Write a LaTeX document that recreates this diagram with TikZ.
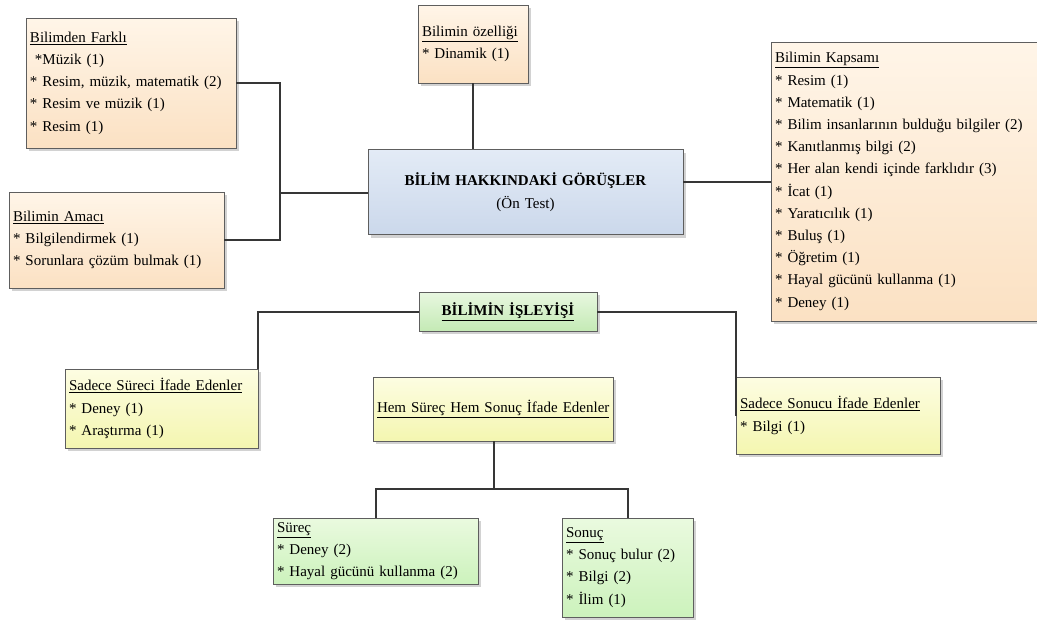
\documentclass[tikz,border=0pt]{standalone}
\usepackage{fontspec}
\setmainfont{Liberation Serif}
\usetikzlibrary{shadows,calc}

\definecolor{orTop}{HTML}{FFF5E8}
\definecolor{orBot}{HTML}{FBE1C3}
\definecolor{blTop}{HTML}{E3EBF6}
\definecolor{blBot}{HTML}{CBD8EB}
\definecolor{grTop}{HTML}{E8F7E0}
\definecolor{grBot}{HTML}{C4EAB5}
\definecolor{yeTop}{HTML}{FDFDE2}
\definecolor{yeBot}{HTML}{F4F6B0}
\definecolor{lgTop}{HTML}{EAFADF}
\definecolor{lgBot}{HTML}{CCF2BC}
\definecolor{edge}{HTML}{5E5E5E}
\definecolor{wire}{HTML}{363636}

\tikzset{
  box/.style={draw=edge, line width=0.9pt, inner xsep=4pt, inner ysep=0pt,
    align=left, anchor=center,
    font=\fontsize{15}{22.2}\selectfont,
    drop shadow={shadow xshift=3pt, shadow yshift=-3pt, fill=black!22, opacity=0.8}},
  orangebox/.style={box, top color=orTop, bottom color=orBot},
  bluebox/.style={box, top color=blTop, bottom color=blBot, align=center},
  greenbox/.style={box, top color=grTop, bottom color=grBot, align=center},
  yellowbox/.style={box, top color=yeTop, bottom color=yeBot},
  lgreenbox/.style={box, top color=lgTop, bottom color=lgBot},
  wirestyle/.style={draw=wire, line width=2pt},
  % outer width and height of a box, in px units
  bsize/.code 2 args={\pgfmathsetlengthmacro\boxtextw{#1pt-8pt}%
    \tikzset{text width=\boxtextw, minimum height=#2pt}},
}

\begin{document}
\begin{tikzpicture}[x=1pt, y=-1pt]
\useasboundingbox (0,0) rectangle (1037,622);

% upper boxes
\node[orangebox, bsize={210}{130}] (farkli) at (131,83)
  {\underline{Bilimden Farklı}\\
   \ *Müzik (1)\\
   {*} Resim, müzik, matematik (2)\\
   {*} Resim ve müzik (1)\\
   {*} Resim (1)};

\node[orangebox, bsize={215}{96}] (amaci) at (116.5,240)
  {\underline{Bilimin Amacı}\\
   {*} Bilgilendirmek (1)\\
   {*} Sorunlara çözüm bulmak (1)};

\node[orangebox, bsize={110}{78}] (ozellik) at (473,44)
  {\underline{Bilimin özelliği}\\
   {*} Dinamik (1)};

\node[bluebox, bsize={315}{85}] (ana) at (525.5,192)
  {\textbf{BİLİM HAKKINDAKİ GÖRÜŞLER}\\[1pt]
   (Ön Test)};

\node[orangebox, bsize={270}{279}] (kapsam) at (906,181.5)
  {\underline{Bilimin Kapsamı}\\
   {*} Resim (1)\\
   {*} Matematik (1)\\
   {*} Bilim insanlarının bulduğu bilgiler (2)\\
   {*} Kanıtlanmış bilgi (2)\\
   {*} Her alan kendi içinde farklıdır (3)\\
   {*} İcat (1)\\
   {*} Yaratıcılık (1)\\
   {*} Buluş (1)\\
   {*} Öğretim (1)\\
   {*} Hayal gücünü kullanma (1)\\
   {*} Deney (1)};

% middle level
\node[greenbox, bsize={178}{39}] (isleyis) at (508,311.5)
  {\textbf{\underline{BİLİMİN İŞLEYİŞİ}}};

\node[yellowbox, bsize={193}{79}] (sureci) at (161.5,408.5)
  {\underline{Sadece Süreci İfade Edenler}\\
   {*} Deney (1)\\
   {*} Araştırma (1)};

\node[yellowbox, bsize={240}{64}] (hem) at (493,409)
  {\underline{Hem Süreç Hem Sonuç İfade Edenler}};

\node[yellowbox, bsize={204}{77}] (sonucu) at (838,415.5)
  {\underline{Sadece Sonucu İfade Edenler}\\
   {*} Bilgi (1)};

% lower level
\node[lgreenbox, bsize={205}{66}] (surec) at (375.5,551)
  {\underline{Süreç}\\
   {*} Deney (2)\\
   {*} Hayal gücünü kullanma (2)};

\node[lgreenbox, bsize={131}{99}] (sonuc) at (627.5,567.5)
  {\underline{Sonuç}\\
   {*} Sonuç bulur (2)\\
   {*} Bilgi (2)\\
   {*} İlim (1)};

% connectors
\coordinate (lj) at (280,193);
\draw[wirestyle] (farkli.east) -| (lj);
\draw[wirestyle] (amaci.east) -| (lj);
\draw[wirestyle] (lj) -- (lj -| ana.west);
\draw[wirestyle] (ozellik.south) -- (ozellik.south |- ana.north);
\draw[wirestyle] (kapsam.west) -- (kapsam.west -| ana.east);
\draw[wirestyle] ($(ana.south)+(-7.5,0)$) -- ($(ana.south)+(-7.5,0)$ |- isleyis.north);
\draw[wirestyle] (isleyis.west) -| (sureci.north east);
\draw[wirestyle] (isleyis.east) -| (sonucu.west);
\draw[wirestyle] ($(isleyis.south)+(9,0)$) -- ($(isleyis.south)+(9,0)$ |- hem.north);
\coordinate (hj) at ($(hem.south)+(1,48)$);
\draw[wirestyle] (hem.south -| hj) -- (hj);
\draw[wirestyle] (surec.north) |- (hj) -| (sonuc.north);
\end{tikzpicture}
\end{document}
